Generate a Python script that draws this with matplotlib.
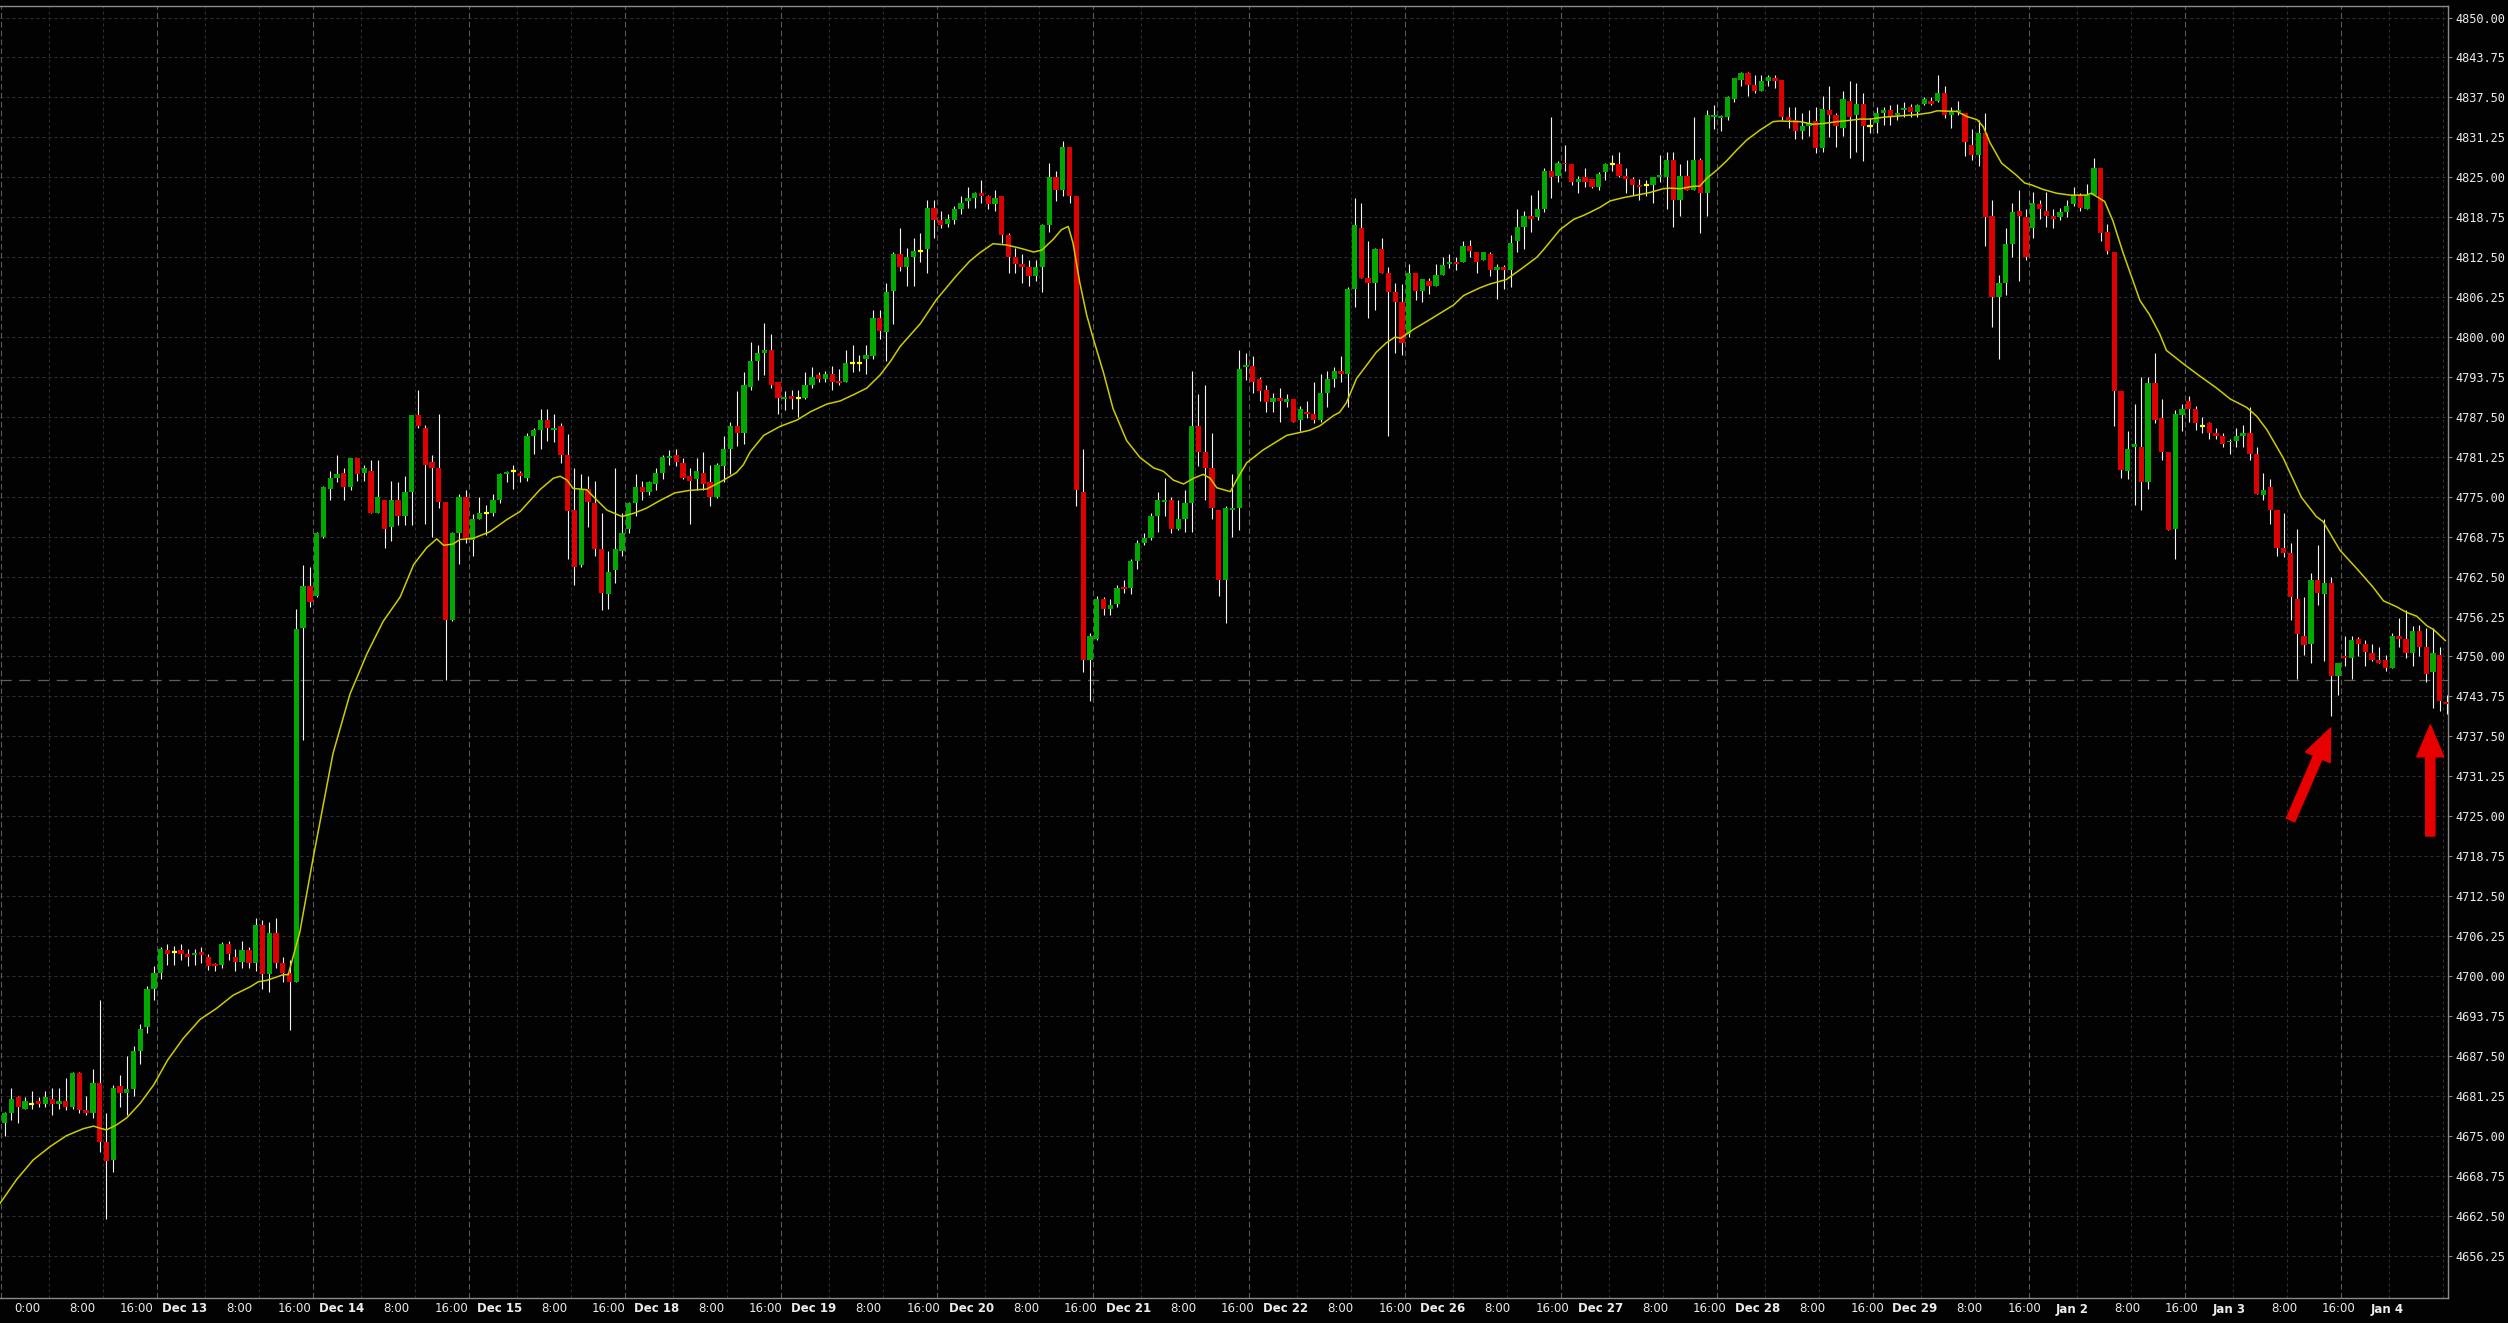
import matplotlib
matplotlib.use('Agg')
import matplotlib.pyplot as plt
import matplotlib.transforms as mtransforms
from matplotlib.patches import ArrowStyle

# hourly bars (index 0 = first bar on the left)
opens = [
    4677.0, 4678.5, 4681.0, 4679.25, 4680.0, 4680.5, 4680.0, 4680.75, 4680.0, 4680.5,
    4679.5, 4684.75, 4679.0, 4678.5, 4683.25, 4674.0, 4671.25, 4682.75, 4681.75, 4682.25,
    4688.25, 4692.0, 4698.0, 4700.5, 4704.0, 4703.75, 4704.0, 4703.5, 4703.25, 4703.75,
    4703.0, 4701.75, 4701.75, 4705.0, 4703.0, 4702.25, 4704.0, 4702.0, 4708.0, 4700.25,
    4706.75, 4702.0, 4700.5, 4699.0, 4754.5, 4761.0, 4759.5, 4768.75, 4776.25, 4778.0,
    4778.75, 4776.5, 4781.0, 4778.75, 4779.0, 4772.5, 4774.5, 4770.25, 4774.5, 4772.0,
    4775.75, 4787.75, 4785.75, 4780.5, 4779.5, 4774.25, 4755.75, 4769.25, 4775.0, 4768.25,
    4771.5, 4772.5, 4772.5, 4774.5, 4778.5, 4779.0, 4778.75, 4778.0, 4784.5, 4785.5,
    4787.0, 4785.5, 4786.0, 4781.5, 4773.0, 4764.25, 4776.25, 4774.0, 4766.75, 4759.75,
    4763.5, 4766.5, 4770.0, 4774.0, 4776.5, 4775.75, 4777.0, 4778.75, 4781.0, 4781.5,
    4780.25, 4778.25, 4777.75, 4778.75, 4777.25, 4775.0, 4779.75, 4782.5, 4786.0, 4785.0,
    4792.25, 4796.25, 4797.5, 4798.0, 4793.0, 4790.25, 4790.75, 4790.5, 4790.5, 4792.5,
    4794.0, 4793.5, 4794.25, 4793.0, 4793.0, 4796.0, 4796.0, 4796.5, 4797.0, 4803.0,
    4800.75, 4807.25, 4813.0, 4811.0, 4812.5, 4813.5, 4813.75, 4820.25, 4818.25, 4817.75,
    4818.25, 4820.0, 4821.25, 4821.75, 4822.5, 4822.0, 4820.75, 4822.0, 4816.0, 4812.5,
    4811.5, 4811.0, 4809.5, 4811.0, 4817.5, 4825.0, 4823.0, 4829.75, 4822.0, 4775.75,
    4749.5, 4752.75, 4759.0, 4757.5, 4758.25, 4760.75, 4760.75, 4765.0, 4767.75, 4768.5,
    4772.0, 4774.25, 4774.5, 4770.0, 4771.5, 4774.0, 4786.0, 4782.0, 4779.5, 4773.0,
    4762.0, 4773.0, 4773.25, 4795.25, 4795.5, 4793.5, 4791.75, 4789.75, 4790.5, 4789.75,
    4790.25, 4787.0, 4788.25, 4788.0, 4787.0, 4791.25, 4793.5, 4794.75, 4794.25, 4807.5,
    4817.0, 4809.25, 4808.5, 4813.75, 4810.0, 4807.0, 4805.5, 4800.5, 4810.0, 4807.25,
    4808.75, 4808.0, 4809.75, 4811.5, 4811.75, 4811.75, 4814.25, 4813.25, 4812.0, 4813.0,
    4810.5, 4811.0, 4810.5, 4815.0, 4817.25, 4819.0, 4818.75, 4820.0, 4826.0, 4825.25,
    4827.25, 4827.0, 4824.25, 4825.0, 4824.75, 4823.5, 4825.75, 4827.0, 4827.0, 4825.25,
    4824.75, 4823.75, 4823.75, 4823.75, 4825.0, 4825.0, 4827.75, 4821.5, 4825.25, 4823.0,
    4827.75, 4822.5, 4834.5, 4834.25, 4834.5, 4837.25, 4840.25, 4841.25, 4839.5, 4838.5,
    4840.0, 4840.5, 4840.25, 4834.5, 4834.0, 4832.25, 4833.0, 4833.75, 4829.5, 4835.5,
    4834.75, 4832.75, 4837.0, 4834.75, 4836.5, 4833.0, 4833.5, 4835.0, 4835.5, 4834.75,
    4835.5, 4836.0, 4835.25, 4836.5, 4837.0, 4837.0, 4838.25, 4834.75, 4835.25, 4835.0,
    4830.0, 4828.5, 4832.0, 4819.0, 4806.25, 4808.5, 4814.5, 4819.75, 4818.75, 4817.0,
    4820.75, 4819.75, 4819.0, 4818.75, 4819.5, 4820.75, 4822.25, 4820.0, 4822.25, 4826.5,
    4816.5, 4813.25, 4791.5, 4779.0, 4782.75, 4782.75, 4777.25, 4792.75, 4787.25, 4782.0,
    4770.0, 4787.75, 4790.0, 4788.75, 4786.0, 4786.5, 4785.0, 4784.5, 4783.5, 4783.75,
    4784.5, 4785.0, 4781.75, 4775.25, 4776.5, 4773.0, 4767.0, 4766.25, 4759.0, 4753.25,
    4752.0, 4762.0, 4759.75, 4761.5, 4747.0, 4750.0, 4749.75, 4752.75, 4752.0, 4750.5,
    4749.5, 4749.5, 4748.25, 4753.25, 4752.75, 4750.5, 4754.0, 4751.5, 4747.5, 4750.25,
    4742.75]

highs = [
    4678.75, 4682.5, 4681.25, 4681.0, 4682.0, 4681.0, 4682.0, 4682.5, 4682.5, 4684.0,
    4685.0, 4685.0, 4681.25, 4685.5, 4696.25, 4678.5, 4683.0, 4684.5, 4687.5, 4689.0,
    4692.5, 4698.5, 4701.5, 4704.5, 4705.0, 4704.75, 4705.0, 4704.25, 4704.25, 4704.5,
    4703.5, 4702.0, 4705.25, 4705.5, 4704.25, 4705.5, 4704.5, 4709.0, 4708.75, 4708.5,
    4709.0, 4703.0, 4702.5, 4757.5, 4764.25, 4764.0, 4769.5, 4776.75, 4779.0, 4781.5,
    4779.5, 4781.0, 4781.0, 4780.0, 4780.75, 4780.75, 4774.5, 4777.5, 4777.25, 4778.25,
    4787.75, 4791.75, 4786.25, 4781.5, 4788.0, 4774.25, 4769.5, 4775.5, 4776.0, 4772.25,
    4775.0, 4773.75, 4775.5, 4778.75, 4779.0, 4780.0, 4779.0, 4785.0, 4785.75, 4788.75,
    4788.75, 4788.0, 4786.5, 4784.75, 4779.5, 4778.5, 4778.25, 4777.5, 4772.5, 4766.5,
    4779.5, 4772.5, 4774.25, 4778.5, 4777.5, 4777.5, 4779.5, 4781.5, 4782.25, 4782.5,
    4781.0, 4779.5, 4781.0, 4782.0, 4780.0, 4780.25, 4784.5, 4786.75, 4791.5, 4794.5,
    4799.25, 4798.75, 4802.25, 4800.5, 4793.0, 4791.5, 4791.75, 4791.75, 4794.5, 4795.25,
    4794.5, 4794.75, 4795.5, 4795.0, 4798.0, 4798.75, 4797.25, 4798.75, 4804.25, 4804.25,
    4808.5, 4813.25, 4817.0, 4814.0, 4815.5, 4816.25, 4821.5, 4821.5, 4819.75, 4819.25,
    4820.5, 4822.0, 4823.5, 4822.75, 4824.5, 4822.25, 4823.0, 4822.0, 4816.25, 4814.0,
    4813.0, 4812.0, 4812.0, 4817.75, 4827.25, 4826.0, 4830.75, 4829.75, 4822.0, 4782.5,
    4753.75, 4759.5, 4759.25, 4759.0, 4761.25, 4762.0, 4765.25, 4768.25, 4769.25, 4772.5,
    4775.75, 4778.0, 4775.0, 4774.5, 4776.0, 4794.75, 4791.0, 4792.5, 4785.0, 4773.0,
    4773.5, 4778.5, 4798.0, 4797.5, 4797.0, 4793.75, 4792.5, 4791.25, 4792.0, 4791.0,
    4790.25, 4789.25, 4790.0, 4793.0, 4794.25, 4794.75, 4795.25, 4797.0, 4807.75, 4821.75,
    4821.0, 4815.0, 4814.0, 4815.5, 4811.0, 4808.5, 4808.25, 4811.5, 4810.0, 4809.0,
    4809.25, 4811.5, 4812.5, 4813.0, 4812.5, 4815.0, 4815.25, 4813.25, 4813.25, 4813.25,
    4811.5, 4811.25, 4816.0, 4820.0, 4819.75, 4822.25, 4823.0, 4826.5, 4834.5, 4827.5,
    4830.0, 4827.0, 4825.25, 4826.5, 4824.75, 4825.75, 4827.25, 4828.5, 4829.0, 4826.5,
    4825.0, 4824.75, 4824.5, 4825.0, 4828.5, 4829.0, 4829.0, 4827.0, 4827.75, 4834.5,
    4828.0, 4835.5, 4836.25, 4834.75, 4837.75, 4840.5, 4841.5, 4841.5, 4841.0, 4841.0,
    4841.0, 4841.0, 4840.25, 4836.0, 4836.0, 4835.0, 4835.5, 4836.0, 4837.75, 4839.25,
    4835.0, 4838.5, 4840.0, 4839.75, 4838.25, 4834.25, 4836.0, 4836.0, 4836.25, 4836.5,
    4836.75, 4836.5, 4836.5, 4837.5, 4837.5, 4841.0, 4839.25, 4836.0, 4837.0, 4835.0,
    4832.5, 4834.0, 4835.0, 4821.5, 4809.75, 4817.0, 4821.0, 4823.0, 4820.0, 4822.75,
    4821.5, 4822.75, 4820.0, 4820.25, 4821.5, 4823.5, 4822.5, 4824.0, 4828.0, 4826.5,
    4817.75, 4813.25, 4791.5, 4785.25, 4789.5, 4793.75, 4793.75, 4797.5, 4790.25, 4782.0,
    4788.5, 4789.5, 4790.75, 4789.25, 4787.5, 4786.75, 4785.75, 4785.0, 4784.0, 4785.75,
    4786.25, 4789.0, 4782.75, 4778.75, 4777.75, 4773.0, 4772.5, 4767.75, 4770.0, 4759.25,
    4763.0, 4767.5, 4771.5, 4762.5, 4749.0, 4753.25, 4753.25, 4753.0, 4752.5, 4752.0,
    4751.5, 4750.25, 4753.75, 4756.0, 4757.25, 4754.75, 4755.0, 4754.5, 4754.5, 4751.5,
    4744.0]

lows = [
    4675.0, 4677.5, 4677.0, 4679.25, 4679.25, 4679.5, 4679.5, 4678.25, 4679.25, 4679.0,
    4679.25, 4678.5, 4678.25, 4677.75, 4672.5, 4662.0, 4669.25, 4679.5, 4678.25, 4681.25,
    4686.25, 4691.0, 4696.25, 4699.5, 4701.75, 4701.75, 4702.5, 4701.5, 4701.75, 4702.0,
    4701.0, 4700.75, 4701.25, 4702.5, 4700.75, 4701.25, 4701.25, 4700.75, 4698.0, 4697.5,
    4701.25, 4699.0, 4691.5, 4699.0, 4737.0, 4757.75, 4759.25, 4768.5, 4774.5, 4777.25,
    4774.5, 4776.0, 4777.5, 4777.5, 4772.5, 4772.5, 4767.0, 4768.0, 4770.5, 4770.5,
    4770.5, 4785.75, 4770.75, 4768.75, 4773.25, 4746.25, 4755.5, 4764.5, 4767.75, 4765.75,
    4771.5, 4769.0, 4772.0, 4774.0, 4777.25, 4776.25, 4777.25, 4777.5, 4781.75, 4782.5,
    4783.75, 4783.5, 4780.25, 4765.25, 4761.25, 4764.0, 4770.25, 4765.75, 4757.25, 4757.5,
    4761.5, 4765.75, 4769.25, 4772.0, 4774.5, 4775.25, 4776.0, 4777.75, 4780.0, 4779.75,
    4777.75, 4770.75, 4776.0, 4776.0, 4773.5, 4774.75, 4777.25, 4778.5, 4783.0, 4783.25,
    4791.75, 4793.25, 4794.0, 4792.0, 4788.0, 4788.5, 4788.75, 4787.5, 4790.25, 4792.0,
    4793.0, 4793.0, 4791.75, 4792.5, 4793.0, 4794.5, 4794.75, 4794.25, 4796.5, 4799.75,
    4796.25, 4802.0, 4810.25, 4808.0, 4808.0, 4811.75, 4810.0, 4815.5, 4817.0, 4817.25,
    4817.75, 4819.25, 4820.25, 4820.25, 4821.0, 4820.0, 4819.75, 4814.75, 4810.0, 4810.0,
    4808.5, 4808.0, 4808.75, 4807.0, 4816.5, 4821.25, 4822.0, 4821.0, 4773.5, 4747.5,
    4743.0, 4752.5, 4756.5, 4756.5, 4757.75, 4760.0, 4759.75, 4763.75, 4767.5, 4768.25,
    4769.5, 4772.0, 4769.25, 4769.75, 4769.5, 4769.5, 4779.75, 4774.5, 4771.5, 4759.5,
    4755.25, 4768.75, 4769.75, 4793.25, 4791.25, 4790.0, 4788.25, 4788.25, 4786.75, 4789.0,
    4786.75, 4785.25, 4787.25, 4786.5, 4786.75, 4789.0, 4792.25, 4793.0, 4789.0, 4804.75,
    4809.25, 4803.0, 4804.25, 4810.0, 4784.5, 4797.5, 4797.25, 4800.0, 4805.75, 4805.5,
    4806.75, 4808.0, 4809.75, 4810.75, 4810.5, 4811.75, 4812.5, 4810.0, 4812.0, 4809.5,
    4806.0, 4807.5, 4807.75, 4813.25, 4813.75, 4816.5, 4818.25, 4819.5, 4821.75, 4824.25,
    4826.0, 4823.75, 4822.5, 4823.5, 4823.25, 4823.0, 4824.5, 4826.0, 4825.0, 4822.5,
    4822.25, 4821.5, 4822.0, 4821.0, 4824.25, 4820.0, 4817.25, 4819.0, 4823.0, 4823.0,
    4816.25, 4819.0, 4832.5, 4832.25, 4834.0, 4836.75, 4839.25, 4837.75, 4838.25, 4838.5,
    4839.25, 4839.0, 4834.0, 4832.75, 4831.0, 4831.0, 4831.5, 4828.75, 4829.0, 4831.25,
    4829.75, 4831.5, 4828.0, 4829.0, 4827.5, 4832.0, 4832.0, 4833.25, 4833.25, 4834.0,
    4834.5, 4834.5, 4834.5, 4836.25, 4836.25, 4836.75, 4834.25, 4832.75, 4834.75, 4828.25,
    4827.75, 4826.75, 4814.25, 4801.5, 4796.5, 4806.5, 4812.5, 4808.75, 4812.0, 4815.5,
    4818.5, 4817.25, 4817.0, 4818.25, 4818.75, 4820.5, 4819.75, 4820.0, 4822.25, 4815.0,
    4813.0, 4786.0, 4778.0, 4777.75, 4773.75, 4773.0, 4776.25, 4786.5, 4780.75, 4769.75,
    4765.25, 4785.25, 4786.75, 4785.5, 4785.0, 4784.0, 4784.0, 4782.75, 4781.75, 4782.75,
    4782.75, 4780.75, 4775.5, 4774.5, 4770.75, 4765.75, 4765.5, 4755.75, 4746.5, 4750.25,
    4749.0, 4758.0, 4749.25, 4740.75, 4744.0, 4748.5, 4746.5, 4750.0, 4748.5, 4749.25,
    4749.0, 4747.75, 4748.25, 4751.5, 4749.75, 4748.5, 4750.0, 4746.0, 4742.0, 4741.5,
    4741.0]

closes = [
    4678.5, 4680.75, 4679.5, 4680.5, 4680.0, 4680.0, 4681.0, 4680.0, 4680.5, 4679.5,
    4684.75, 4679.0, 4678.5, 4683.25, 4674.0, 4671.0, 4682.5, 4681.75, 4682.25, 4688.25,
    4691.75, 4698.0, 4700.5, 4704.25, 4703.5, 4703.75, 4703.5, 4703.0, 4703.5, 4703.25,
    4701.5, 4701.5, 4705.0, 4703.5, 4702.25, 4704.0, 4702.0, 4708.0, 4700.25, 4706.75,
    4702.0, 4700.5, 4699.0, 4754.25, 4761.0, 4758.5, 4769.25, 4776.5, 4778.0, 4778.5,
    4776.5, 4781.0, 4778.5, 4779.5, 4772.5, 4775.0, 4770.0, 4774.5, 4772.0, 4775.75,
    4787.75, 4786.0, 4780.0, 4779.5, 4774.25, 4755.75, 4769.25, 4775.0, 4768.5, 4771.5,
    4772.5, 4772.5, 4774.5, 4778.5, 4778.75, 4779.0, 4778.25, 4784.5, 4785.5, 4787.0,
    4785.75, 4785.75, 4781.5, 4772.75, 4764.0, 4776.25, 4774.25, 4766.75, 4760.0, 4763.25,
    4766.75, 4769.25, 4774.0, 4776.5, 4775.75, 4777.25, 4778.75, 4781.25, 4781.25, 4780.5,
    4778.0, 4777.5, 4779.0, 4777.0, 4775.0, 4780.0, 4782.5, 4786.0, 4785.0, 4792.5,
    4796.25, 4797.5, 4798.0, 4792.5, 4790.5, 4790.5, 4790.25, 4790.5, 4792.5, 4793.75,
    4793.5, 4794.25, 4793.0, 4792.75, 4796.0, 4796.0, 4796.0, 4797.25, 4803.0, 4801.0,
    4807.0, 4813.0, 4811.0, 4812.5, 4813.5, 4813.5, 4820.25, 4818.25, 4817.5, 4818.5,
    4820.0, 4821.0, 4821.75, 4822.5, 4822.0, 4820.75, 4821.75, 4816.0, 4812.5, 4811.5,
    4811.0, 4809.5, 4811.0, 4817.5, 4825.0, 4823.0, 4829.75, 4822.0, 4776.0, 4749.5,
    4753.25, 4759.0, 4757.5, 4758.0, 4760.75, 4760.5, 4765.0, 4767.75, 4768.5, 4772.0,
    4774.5, 4774.5, 4770.0, 4771.5, 4774.0, 4786.0, 4782.0, 4779.5, 4773.25, 4762.0,
    4773.25, 4773.25, 4795.0, 4795.5, 4793.0, 4791.5, 4789.75, 4790.5, 4790.0, 4790.25,
    4786.75, 4788.75, 4788.0, 4787.0, 4791.25, 4793.5, 4794.75, 4794.25, 4807.5, 4817.5,
    4809.25, 4808.5, 4813.75, 4810.0, 4807.0, 4805.5, 4799.0, 4810.0, 4807.25, 4809.0,
    4808.0, 4809.75, 4811.25, 4811.75, 4811.5, 4814.25, 4813.5, 4811.75, 4813.25, 4810.5,
    4811.0, 4810.5, 4814.75, 4817.25, 4819.0, 4818.5, 4820.0, 4826.0, 4825.0, 4827.25,
    4827.0, 4824.25, 4824.75, 4824.25, 4823.5, 4825.5, 4827.0, 4827.0, 4825.25, 4824.75,
    4823.75, 4823.5, 4823.75, 4825.0, 4825.25, 4827.75, 4821.5, 4825.25, 4823.0, 4827.75,
    4822.5, 4834.75, 4834.75, 4834.5, 4837.5, 4840.5, 4841.25, 4839.5, 4838.5, 4840.0,
    4840.75, 4840.0, 4834.5, 4834.0, 4832.25, 4833.0, 4833.5, 4829.5, 4835.75, 4834.75,
    4833.0, 4837.25, 4834.5, 4836.5, 4833.0, 4833.0, 4835.0, 4835.5, 4834.5, 4835.0,
    4835.75, 4835.25, 4836.25, 4837.25, 4836.5, 4838.25, 4834.75, 4835.25, 4835.5, 4830.5,
    4828.5, 4832.0, 4818.75, 4806.25, 4808.5, 4814.5, 4819.5, 4819.0, 4812.5, 4821.0,
    4820.0, 4819.0, 4818.5, 4819.5, 4820.5, 4822.25, 4820.25, 4822.25, 4826.5, 4816.25,
    4813.5, 4791.5, 4779.25, 4782.5, 4783.25, 4777.25, 4792.75, 4787.0, 4782.0, 4769.75,
    4788.0, 4788.75, 4788.75, 4786.5, 4786.0, 4785.0, 4784.5, 4783.25, 4783.75, 4784.5,
    4785.0, 4781.75, 4775.5, 4776.0, 4773.0, 4767.0, 4766.25, 4759.25, 4753.5, 4751.75,
    4762.0, 4760.0, 4761.5, 4747.0, 4749.0, 4749.75, 4752.5, 4752.0, 4750.75, 4749.5,
    4749.0, 4748.25, 4753.25, 4752.75, 4750.5, 4754.0, 4751.5, 4747.25, 4750.5, 4743.0,
    4742.5]

# moving average (yellow line), read at bar positions
ma_idx = [-0.7, 1.8, 4.2, 6.7, 9.1, 11.6, 13.1, 14.0, 15.0, 16.5, 18.0, 20.0, 22.0, 24.0,
          26.3, 28.8, 31.2, 33.7, 36.2, 37.4, 38.6, 41.1, 41.8, 43.5, 45.5, 48.4, 50.9,
          53.4, 55.8, 58.3, 60.3, 62.2, 63.7, 64.7, 66.1, 67.1, 69.1, 71.5, 74.0, 76.0,
          78.9, 80.9, 81.9, 82.9, 83.8, 85.8, 86.8, 88.8, 91.0, 92.7, 94.6, 96.6, 98.8,
          101.0, 103.5, 106.0, 107.9, 108.9, 109.9, 111.9, 114.3, 116.8, 118.8, 121.2,
          123.2, 125.2, 127.1, 129.1, 130.6, 132.0, 135.0, 137.4, 140.4, 142.3, 143.8,
          145.7, 147.7, 149.7, 151.7, 152.9, 154.6, 155.8, 156.8, 157.5, 158.5, 159.5,
          160.5, 162.0, 163.4, 165.4, 167.4, 169.4, 170.8, 172.3, 173.8, 175.3, 176.7,
          177.7, 178.7, 180.7, 181.6, 183.1, 185.5, 189.0, 192.4, 193.9, 195.9, 196.8,
          197.8, 199.3, 200.8, 202.2, 203.7, 205.0, 205.8, 207.7, 209.6, 211.6, 213.6,
          215.1, 217.5, 219.0, 221.4, 223.9, 225.9, 226.9, 229.3, 231.3, 232.7, 233.7,
          235.2, 236.7, 238.6, 240.6, 242.5, 244.5, 245.5, 247.0, 249.0, 249.9, 250.9,
          252.4, 253.8, 255.3, 256.8, 258.8, 260.7, 261.7, 264.7, 266.6, 268.1, 270.1,
          272.0, 273.5, 275.0, 277.0, 279.4, 281.9, 283.9, 284.9, 287.8, 289.3, 290.8,
          291.7, 292.7, 294.4, 296.6, 297.8, 298.8, 300.5, 302.5, 304.5, 306.9, 307.6,
          309.6, 310.8, 312.3, 314.8, 316.2, 317.7, 318.7, 321.2, 323.6, 326.1, 328.1,
          330.5, 332.0, 333.5, 335.9, 338.6, 340.8, 341.8, 344.3, 346.8, 349.2, 350.7,
          352.6, 354.1, 355.6, 357.1, 358.1, 359.8]
ma_val = [4664.4, 4668.2, 4671.2, 4673.3, 4675.0, 4676.1, 4676.5, 4676.2, 4675.9, 4676.7,
          4677.8, 4680.1, 4683.0, 4686.8, 4690.2, 4693.2, 4694.9, 4697.0, 4698.3, 4699.1,
          4699.3, 4700.2, 4700.2, 4706.8, 4718.6, 4734.8, 4744.1, 4750.4, 4755.5, 4759.3,
          4764.4, 4767.0, 4768.4, 4767.4, 4767.6, 4768.3, 4768.5, 4769.5, 4771.4, 4772.7,
          4776.1, 4777.9, 4778.2, 4777.6, 4776.3, 4776.1, 4775.0, 4772.9, 4771.9, 4772.4,
          4773.2, 4774.4, 4775.6, 4776.0, 4776.2, 4777.6, 4778.8, 4780.0, 4782.0, 4784.6,
          4786.0, 4787.0, 4788.3, 4789.5, 4790.0, 4791.0, 4792.0, 4794.1, 4796.2, 4798.5,
          4802.1, 4805.9, 4809.7, 4811.9, 4813.2, 4814.6, 4814.4, 4813.9, 4813.3, 4813.6,
          4815.3, 4816.8, 4817.3, 4814.7, 4808.5, 4803.5, 4799.7, 4794.4, 4788.8, 4783.8,
          4781.1, 4779.5, 4779.0, 4777.6, 4777.0, 4777.9, 4778.5, 4777.9, 4776.4, 4775.8,
          4777.6, 4780.3, 4782.3, 4784.6, 4785.4, 4786.1, 4787.7, 4788.2, 4789.7, 4793.5,
          4795.6, 4797.6, 4799.1, 4800.0, 4799.8, 4801.2, 4802.4, 4803.7, 4805.0, 4806.5,
          4807.7, 4808.3, 4809.0, 4810.9, 4812.5, 4813.7, 4816.8, 4818.4, 4819.0, 4819.5,
          4820.3, 4821.3, 4821.8, 4822.2, 4822.6, 4823.2, 4823.3, 4823.2, 4823.6, 4823.6,
          4824.8, 4826.1, 4827.5, 4829.2, 4830.8, 4832.4, 4833.7, 4833.8, 4833.7, 4833.3,
          4833.4, 4833.7, 4833.9, 4834.1, 4834.1, 4834.4, 4834.6, 4834.8, 4835.1, 4835.4,
          4835.3, 4834.5, 4834.0, 4832.9, 4830.4, 4827.2, 4825.3, 4824.1, 4823.8, 4823.1,
          4822.5, 4822.2, 4822.2, 4822.5, 4821.2, 4818.2, 4813.2, 4805.7, 4803.5, 4800.5,
          4797.9, 4795.8, 4793.9, 4792.0, 4790.3, 4789.0, 4787.6, 4785.5, 4781.1, 4774.9,
          4771.9, 4771.1, 4766.6, 4763.7, 4760.8, 4758.7, 4757.8, 4756.9, 4756.3, 4754.8,
          4754.2, 4752.5]

dates = ['Dec 13', 'Dec 14', 'Dec 15', 'Dec 18', 'Dec 19', 'Dec 20', 'Dec 21', 'Dec 22',
         'Dec 26', 'Dec 27', 'Dec 28', 'Dec 29', 'Jan 2', 'Jan 3', 'Jan 4']
price_ticks = [4656.25 + 6.25 * k for k in range(32)]
marker_price = 4746.25

W, H = 2508, 1323
bg = '#020202'
fig = plt.figure(figsize=(W / 100, H / 100), dpi=100, facecolor=bg)
ax = fig.add_axes([0, 25 / H, 2448 / W, 1292 / H])
ax.set_facecolor(bg)
ax.set_xlim(-0.69, 360.21)
ax.set_ylim(4649.6, 4851.8)

# grid
for p in price_ticks:
    ax.axhline(p, color='#303030', lw=0.72, linestyle=(0, (3, 3)), zorder=1)
for k in range(-1, 15):
    ax.axvline(22.5 + 23 * k, color='#5a5a5a', lw=0.8, linestyle=(0, (5, 3)), zorder=1)
    ax.axvline(29.5 + 23 * k, color='#303030', lw=0.72, linestyle=(0, (3, 3)), zorder=1)
    ax.axvline(37.5 + 23 * k, color='#303030', lw=0.72, linestyle=(0, (3, 3)), zorder=1)
ax.axhline(marker_price, color='#5e5e5e', lw=0.9, linestyle=(0, (9, 6)), zorder=1)

# candles
n = len(closes)
xs = list(range(n))
hi = [max(highs[i], opens[i], closes[i]) for i in xs]
lo = [min(lows[i], opens[i], closes[i]) for i in xs]
ax.vlines(xs, lo, hi, color='#f4f4f4', lw=0.8, zorder=3)
bw = 0.78
bx, bb, bh, bc = [], [], [], []
dx, dy = [], []
for i in xs:
    o, c = opens[i], closes[i]
    if o == c:
        dx.append(i)
        dy.append(c)
        continue
    bx.append(i)
    bb.append(min(o, c))
    bh.append(max(abs(c - o), 0.3))
    bc.append('#00a800' if c > o else '#dc0000')
ax.bar(bx, bh, bottom=bb, width=bw, color=bc, linewidth=0, zorder=4)
ax.hlines(dy, [x - bw / 2 for x in dx], [x + bw / 2 for x in dx], color='#ffff00', lw=1.6, zorder=5)

# moving average
ax.plot(ma_idx, ma_val, color='#cccc00', lw=1.1, zorder=6)

# red arrows
style = ArrowStyle('simple', head_length=1.15, head_width=0.97, tail_width=0.33)
for tail, tip in [((337.0, 4724.4), (342.9, 4738.8)), ((357.6, 4721.9), (357.6, 4739.3))]:
    ax.annotate('', xy=tip, xytext=tail,
                arrowprops=dict(arrowstyle=style, mutation_scale=20, color='#e80000',
                                shrinkA=0, shrinkB=0), zorder=7)

# right price axis
ax.yaxis.tick_right()
ax.set_yticks(price_ticks)
ax.set_yticklabels(['%.2f' % p for p in price_ticks], family='DejaVu Sans Mono', fontsize=8.6)
ax.tick_params(axis='y', colors='#8a8a8a', labelcolor='#ececec', length=3, width=0.8, pad=2)
ax.set_xticks([])

for s in ['right', 'bottom', 'top']:
    ax.spines[s].set_color('#8a8a8a')
    ax.spines[s].set_linewidth(1.0)
ax.spines['left'].set_visible(False)

# bottom time labels
labels = [(6.5, '0:00', False), (14.5, '8:00', False), (22.5, '16:00', False)]
for j, d in enumerate(dates):
    labels.append((29.5 + 23 * j, d, True))
    if j < len(dates) - 1:
        labels.append((37.5 + 23 * j, '8:00', False))
        labels.append((45.5 + 23 * j, '16:00', False))
trans = mtransforms.blended_transform_factory(ax.transData, fig.transFigure)
for g, txt, bold in labels:
    pos = g - (351.5 - g) * 0.00826 - 0.3
    ax.text(pos, 14 / H, txt, transform=trans, ha='center', va='center', fontsize=8.5,
            color='#ececec', fontweight='bold' if bold else 'normal', clip_on=False)

fig.savefig('out.png', dpi=100, facecolor=fig.get_facecolor())
